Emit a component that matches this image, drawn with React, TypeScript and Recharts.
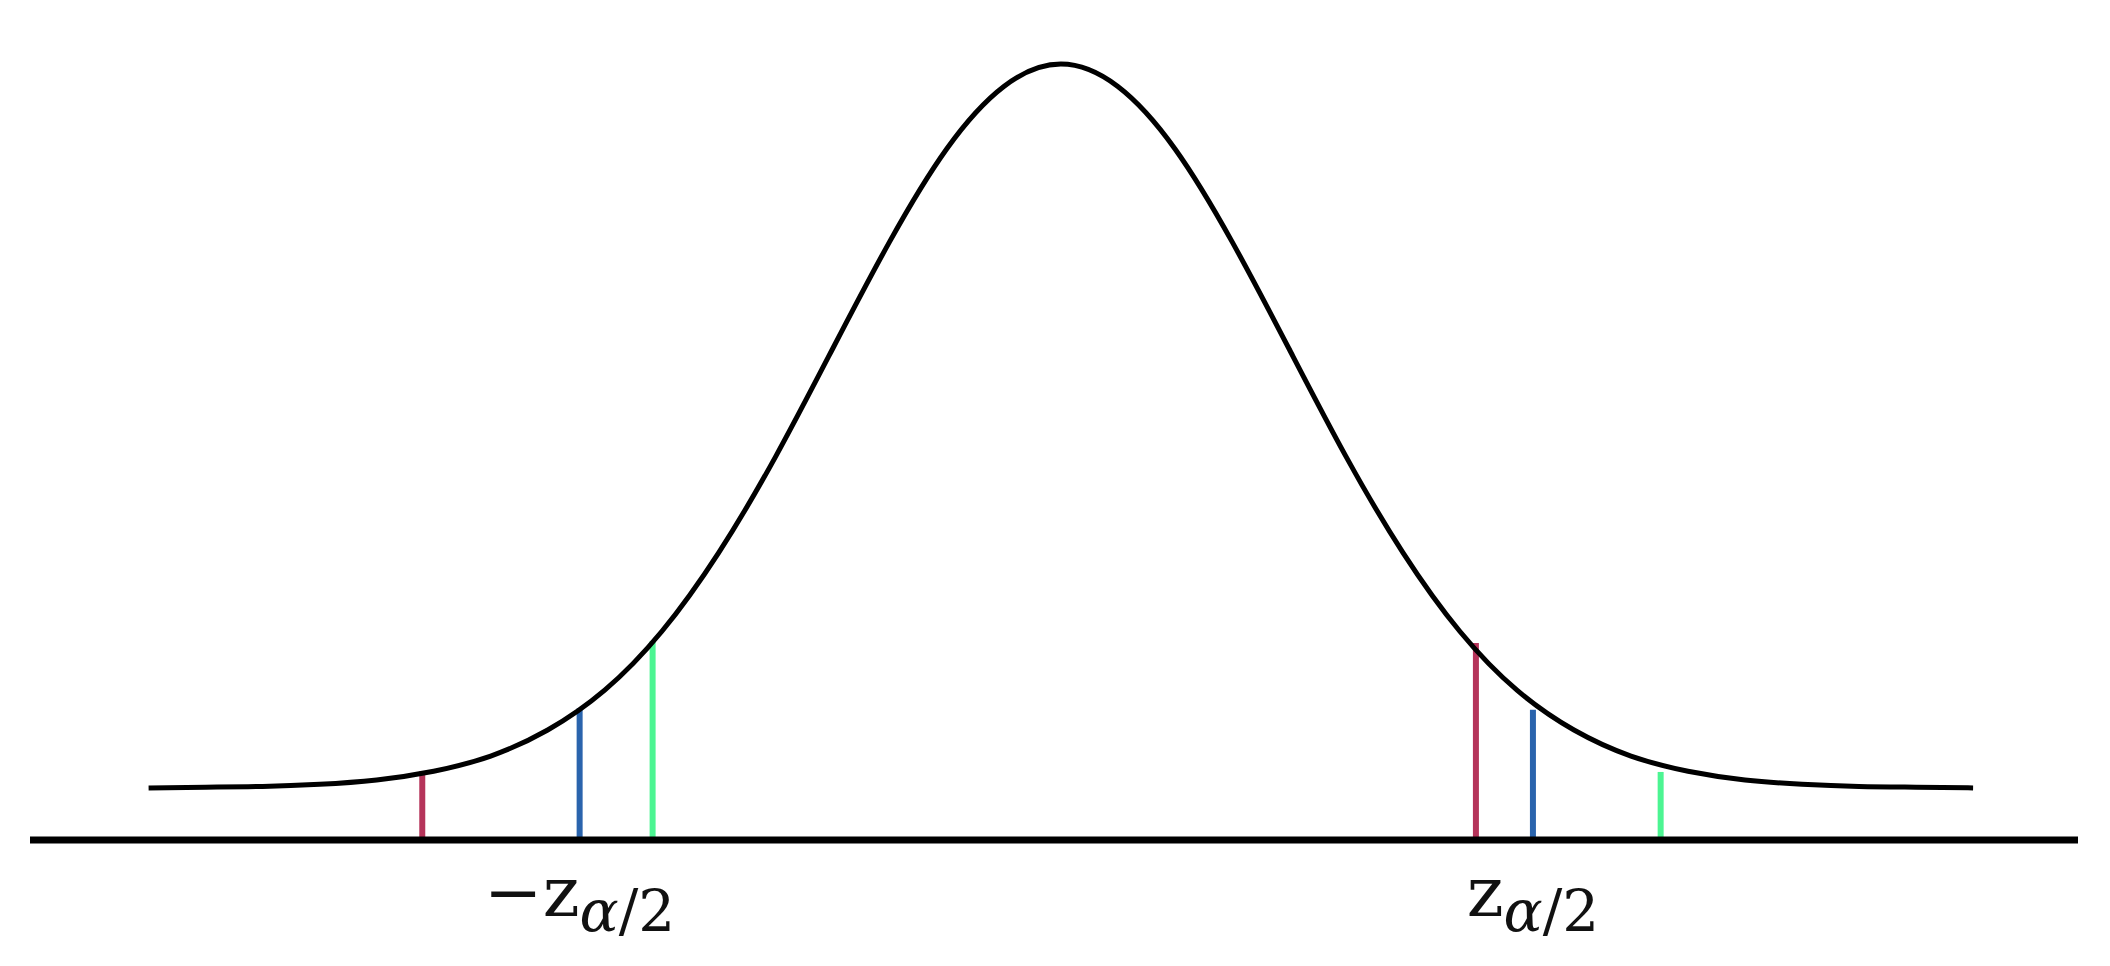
import { LineChart, Line, XAxis, YAxis, ReferenceLine } from "recharts"

// curve: z position and height above the base line
const curveZ = [
    -4, -3.75, -3.5, -3.25, -3, -2.75, -2.5, -2.25, -2, -1.75, -1.5, -1.25, -1, -0.75, -0.5, -0.25,
    0, 0.25, 0.5, 0.75, 1, 1.25, 1.5, 1.75, 2, 2.25, 2.5, 2.75, 3, 3.25, 3.5, 3.75, 4
]
const curveHeight = [
    0.072, 0.073, 0.074, 0.077, 0.083, 0.095, 0.116, 0.152, 0.207, 0.288, 0.397, 0.530, 0.679, 0.827, 0.955, 1.041,
    1.072, 1.041, 0.955, 0.827, 0.679, 0.530, 0.397, 0.288, 0.207, 0.152, 0.116, 0.095, 0.083, 0.077, 0.074, 0.073, 0.072
]

// coloured markers under the curve
const markerZ = [-2.80, -2.11, -1.79, 1.82, 2.07, 2.63]
const markerTop = [0.095, 0.182, 0.275, 0.272, 0.180, 0.094]
const markerColors = ["#b5345a", "#2a64ad", "#4cf592", "#b5345a", "#2a64ad", "#4cf592"]

// tick labels sit under the blue markers
const tickZ = [-2.11, 2.07]
const tickLabels = ["−z", "z"]

const data = curveZ.map((z, i) => ({ z, h: curveHeight[i] }))

const ZTick = (props: any) => {
    const { x, y, payload } = props
    const idx = tickZ.indexOf(payload.value)
    const label = tickLabels[idx] ?? ""
    const neg = label.startsWith("−")
    return (
        <text x={x} y={y + 76} textAnchor="middle" fontFamily="DejaVu Serif" fill="#111" fontSize={70}>
            {neg && <tspan>−</tspan>}
            <tspan>z</tspan>
            <tspan fontStyle="italic" fontSize={58} dy={15}>α</tspan>
            <tspan fontSize={58}>/2</tspan>
        </text>
    )
}

export default function App() {
    return (
        <div style={{ background: "#fff" }}>
            <LineChart width={2094} height={950} data={data} margin={{ top: 56, right: 24, bottom: 18, left: 22 }}>
                <XAxis
                    dataKey="z"
                    type="number"
                    domain={[-4.52, 4.46]}
                    ticks={tickZ}
                    tick={<ZTick />}
                    tickLine={false}
                    tickSize={0}
                    tickMargin={0}
                    height={100}
                    axisLine={{ stroke: "#000", strokeWidth: 7 }}
                    interval={0}
                />
                <YAxis hide domain={[0, 1.072]} />
                {markerZ.map((z, i) => (
                    <ReferenceLine
                        key={i}
                        segment={[{ x: z, y: 0 }, { x: z, y: markerTop[i] }]}
                        stroke={markerColors[i]}
                        strokeWidth={6}
                    />
                ))}
                <Line
                    type="natural"
                    dataKey="h"
                    stroke="#000"
                    strokeWidth={5}
                    dot={false}
                    isAnimationActive={false}
                />
            </LineChart>
        </div>
    )
}
